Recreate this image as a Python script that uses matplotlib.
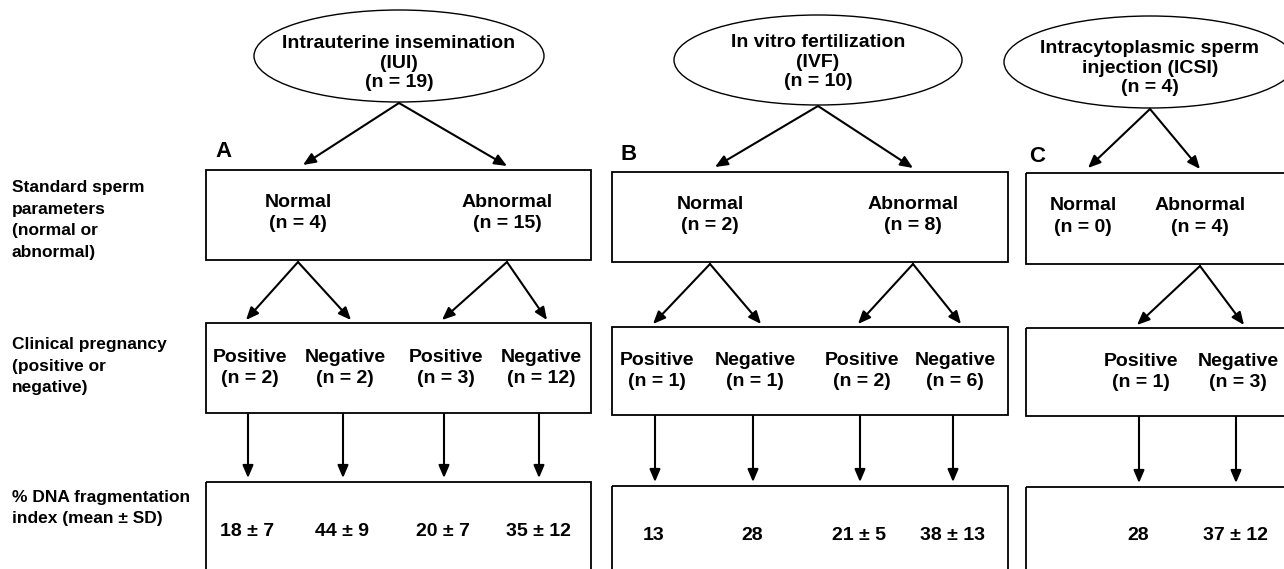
import matplotlib.pyplot as plt
from matplotlib.patches import Ellipse, Rectangle

# data
PANELS = ["A", "B", "C"]
GROUP_NAMES = ["Intrauterine insemination\n(IUI)", "In vitro fertilization\n(IVF)",
               "Intracytoplasmic sperm\ninjection (ICSI)"]
GROUP_N = [19, 10, 4]
NORMAL_N = [4, 2, 0]
ABNORMAL_N = [15, 8, 4]
# clinical pregnancy: positive / negative for normal, then for abnormal
PREG_N = [[2, 2, 3, 12], [1, 1, 2, 6], [None, None, 1, 3]]
DFI_MEAN = [[18, 44, 20, 35], [13, 28, 21, 38], [None, None, 28, 37]]
DFI_SD = [[7, 9, 7, 12], [None, None, 5, 13], [None, None, None, 12]]
ROW_LABELS = ["Standard sperm\nparameters\n(normal or\nabnormal)",
              "Clinical pregnancy\n(positive or\nnegative)",
              "% DNA fragmentation\nindex (mean ± SD)"]

# layout (pixel coordinates)
W, H = 1284, 569
ELL = [(399, 56, 290, 92), (818, 60, 288, 90), (1150, 62, 292, 92)]
ELL_TXT_Y = [63, 62, 68]
BOX_X = [(206, 591), (612, 1008), (1026, 1300)]
BOX1_Y = [(170, 260), (172, 262), (173, 264)]
BOX2_Y = [(323, 413), (327, 415), (328, 416)]
BOX3_Y = [482, 486, 487]
SUB_X = [(298, 507), (710, 913), (1083, 1200)]
LEAF_X = [[250, 345, 446, 541], [657, 755, 862, 955], [None, None, 1141, 1238]]
PANEL_LBL = [(223, 151), (629, 154), (1037, 156)]

FONT = "Liberation Sans"
fig = plt.figure(figsize=(W / 100, H / 100), dpi=100)
ax = fig.add_axes([0, 0, 1, 1])
ax.set_xlim(0, W)
ax.set_ylim(H, 0)
ax.axis("off")


def txt(x, y, s, size=14, ha="center", ls=1.33):
    ax.text(x, y, s, ha=ha, va="center", fontsize=size, fontweight="bold",
            family=FONT, linespacing=ls)


def arrow(x0, y0, x1, y1):
    ax.annotate("", xy=(x1, y1), xytext=(x0, y0),
                arrowprops=dict(arrowstyle="-|>,head_length=0.75,head_width=0.32",
                                color="black", lw=1.5, shrinkA=0, shrinkB=0))


def box(x0, x1, y0, y1):
    ax.add_patch(Rectangle((x0, y0), x1 - x0, y1 - y0, fill=False,
                           edgecolor="black", lw=1.3))


# row labels
txt(12, 220, ROW_LABELS[0], size=12.5, ha="left", ls=1.56)
txt(12, 366, ROW_LABELS[1], size=12.5, ha="left", ls=1.56)
txt(12, 508, ROW_LABELS[2], size=12.5, ha="left", ls=1.56)

for i in range(3):
    cx, cy, ew, eh = ELL[i]
    ax.add_patch(Ellipse((cx, cy), ew, eh, fill=False, edgecolor="black", lw=1.0))
    txt(cx, ELL_TXT_Y[i], f"{GROUP_NAMES[i]}\n(n = {GROUP_N[i]})", ls=1.23)

    bx0, bx1 = BOX_X[i]
    b1y0, b1y1 = BOX1_Y[i]
    b2y0, b2y1 = BOX2_Y[i]
    b3y0 = BOX3_Y[i]
    box(bx0, bx1, b1y0, b1y1)
    box(bx0, bx1, b2y0, b2y1)
    box(bx0, bx1, b3y0, H + 20)

    txt(PANEL_LBL[i][0], PANEL_LBL[i][1], PANELS[i], size=16)

    nx, ax_ = SUB_X[i]
    ytop = cy + eh / 2 + 1
    arrow(cx, ytop, nx + 5, b1y0 - 5)
    arrow(cx, ytop, ax_, b1y0 - 4)
    mid1 = (b1y0 + b1y1) / 2
    txt(nx, mid1 - 2, f"Normal\n(n = {NORMAL_N[i]})")
    txt(ax_, mid1 - 2, f"Abnormal\n(n = {ABNORMAL_N[i]})")

    mid2 = (b2y0 + b2y1) / 2
    mid3 = b3y0 + 49
    for j in range(4):
        lx = LEAF_X[i][j]
        if lx is None:
            continue
        parent = SUB_X[i][j // 2]
        if NORMAL_N[i] > 0 or j >= 2:
            arrow(parent, b1y1 + 2, lx - 4 if j % 2 == 0 else lx + 6, b2y0 - 3)
        kind = "Positive" if j % 2 == 0 else "Negative"
        txt(lx, mid2, f"{kind}\n(n = {PREG_N[i][j]})")
        arrow(lx - 2, b2y1 + 1, lx - 2, b3y0 - 4)
        sd = DFI_SD[i][j]
        val = f"{DFI_MEAN[i][j]}" if sd is None else f"{DFI_MEAN[i][j]} ± {sd}"
        txt(lx - 3, mid3, val)

fig.savefig("out.png", dpi=100)
